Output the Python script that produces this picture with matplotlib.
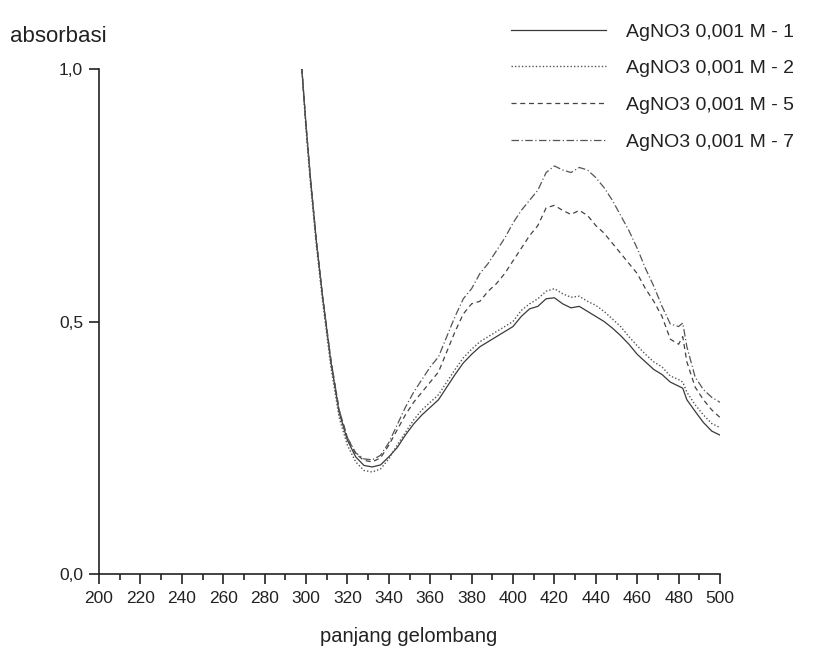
import matplotlib
matplotlib.use("Agg")
import matplotlib.pyplot as plt
from matplotlib.ticker import MultipleLocator, FixedLocator

plt.rcParams['font.family'] = ['Liberation Sans', 'DejaVu Sans']

wavelength = [298, 300, 302, 305, 308, 312, 316, 320, 324, 328, 332, 336, 340, 344, 348,
              352, 356, 360, 364, 368, 372, 376, 380, 384, 388, 392, 396, 400, 404, 408,
              412, 416, 420, 424, 428, 432, 436, 440, 444, 448, 452, 456, 460, 464, 468,
              472, 476, 480, 482, 484, 488, 492, 496, 500]

abs_m1 = [1.00, 0.89, 0.79, 0.66, 0.55, 0.42, 0.32, 0.265, 0.232, 0.215, 0.212, 0.216, 0.232, 0.25, 0.275,
          0.297, 0.315, 0.33, 0.345, 0.37, 0.395, 0.418, 0.435, 0.45, 0.46, 0.47, 0.48, 0.49, 0.51, 0.525,
          0.53, 0.545, 0.547, 0.535, 0.527, 0.53, 0.52, 0.51, 0.50, 0.487, 0.472, 0.455, 0.435, 0.42, 0.405,
          0.395, 0.38, 0.372, 0.368, 0.345, 0.322, 0.30, 0.283, 0.275]

abs_m2 = [1.00, 0.88, 0.78, 0.65, 0.54, 0.41, 0.31, 0.255, 0.222, 0.205, 0.202, 0.208, 0.228, 0.255, 0.28,
          0.305, 0.325, 0.34, 0.355, 0.38, 0.405, 0.428, 0.445, 0.46, 0.47, 0.48, 0.49, 0.50, 0.522, 0.535,
          0.545, 0.56, 0.565, 0.555, 0.548, 0.55, 0.54, 0.532, 0.52, 0.505, 0.49, 0.47, 0.452, 0.435, 0.42,
          0.41, 0.392, 0.385, 0.38, 0.36, 0.335, 0.315, 0.298, 0.29]

abs_m5 = [1.00, 0.89, 0.79, 0.66, 0.55, 0.425, 0.325, 0.27, 0.238, 0.225, 0.222, 0.23, 0.255, 0.285, 0.315,
          0.34, 0.36, 0.38, 0.40, 0.44, 0.48, 0.515, 0.535, 0.54, 0.56, 0.575, 0.595, 0.62, 0.645, 0.67,
          0.69, 0.725, 0.73, 0.72, 0.712, 0.72, 0.71, 0.69, 0.675, 0.655, 0.635, 0.615, 0.595, 0.565, 0.54,
          0.51, 0.465, 0.455, 0.47, 0.42, 0.37, 0.345, 0.325, 0.31]

abs_m7 = [1.00, 0.89, 0.79, 0.66, 0.55, 0.425, 0.325, 0.27, 0.24, 0.228, 0.226, 0.235, 0.26, 0.295, 0.33,
          0.36, 0.385, 0.41, 0.43, 0.47, 0.51, 0.545, 0.565, 0.595, 0.615, 0.64, 0.665, 0.695, 0.72, 0.74,
          0.76, 0.795, 0.808, 0.80, 0.795, 0.805, 0.80, 0.785, 0.765, 0.74, 0.71, 0.68, 0.645, 0.605, 0.57,
          0.53, 0.495, 0.49, 0.497, 0.45, 0.39, 0.365, 0.35, 0.34]

labels = ["AgNO3 0,001 M - 1", "AgNO3 0,001 M - 2", "AgNO3 0,001 M - 5", "AgNO3 0,001 M - 7"]
x_ticks = list(range(200, 501, 20))
y_ticks = [0.0, 0.5, 1.0]
y_tick_labels = ["0,0", "0,5", "1,0"]

fs_tick = 12.5
fs_leg = 14
fs_ylab = 16
fs_xlab = 14.5

fig = plt.figure(figsize=(8.23, 6.53), dpi=100)
ax = fig.add_axes([99/823, 1-574/653, (720-99)/823, (574-69)/653])

styles = [
    dict(color='#3a3a3a', lw=0.9, ls='-'),
    dict(color='#555555', lw=1.0, ls=(0, (1, 1.5))),
    dict(color='#444444', lw=0.9, ls=(0, (4, 3))),
    dict(color='#555555', lw=0.9, ls=(0, (6, 2, 1, 2))),
]
for ys, lab, st in zip([abs_m1, abs_m2, abs_m5, abs_m7], labels, styles):
    ax.plot(wavelength, ys, label=lab, **st)

ax.set_xlim(200, 500)
ax.set_ylim(0, 1)
ax.spines['top'].set_visible(False)
ax.spines['right'].set_visible(False)
for s in ['left', 'bottom']:
    ax.spines[s].set_linewidth(1.2)
    ax.spines[s].set_color('#222222')

ax.xaxis.set_major_locator(FixedLocator(x_ticks))
ax.xaxis.set_minor_locator(MultipleLocator(10))
ax.set_yticks(y_ticks)
ax.set_yticklabels(y_tick_labels)
ax.tick_params(axis='both', which='major', direction='out', length=7.5, width=1.2,
               labelsize=fs_tick, color='#222222', labelcolor='#222222')
ax.tick_params(axis='x', which='minor', direction='out', length=4.5, width=1.2, color='#222222')
ax.tick_params(axis='x', pad=5)
ax.tick_params(axis='y', pad=4)

fig.text(10/823, 1-36/653, "absorbasi", fontsize=fs_ylab, ha='left', va='center', color='#222222')
fig.text(409/823, 1-637/653, "panjang gelombang", fontsize=fs_xlab, ha='center', va='center', color='#222222')

fsz_px = fs_leg * 100 / 72
leg = fig.legend(loc='upper right', bbox_to_anchor=(794/823, 1-23/653), frameon=False,
                 fontsize=fs_leg, handlelength=95/fsz_px, handletextpad=20/fsz_px,
                 labelspacing=(38.5 - fsz_px)/fsz_px, borderpad=0, borderaxespad=0)
for t in leg.get_texts():
    t.set_color('#222222')

fig.savefig("out.png", dpi=100)
